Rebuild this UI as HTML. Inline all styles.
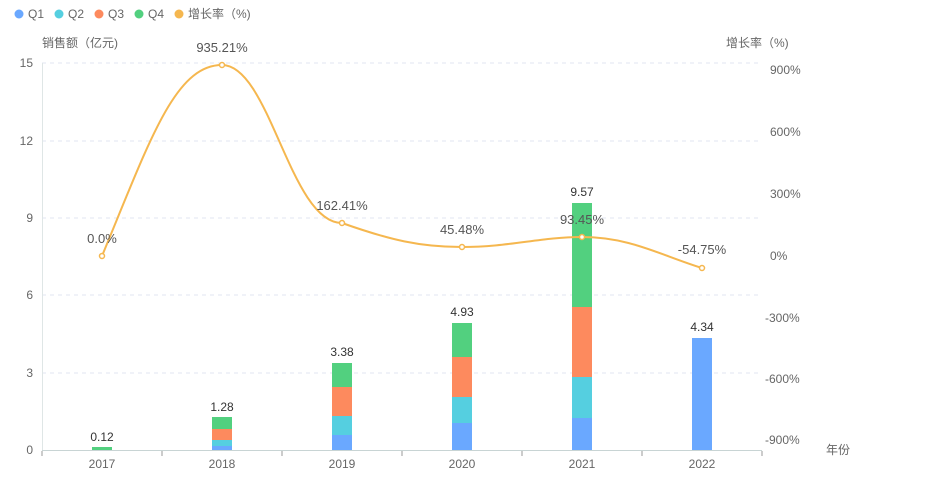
<!DOCTYPE html>
<html><head><meta charset="utf-8"><style>
body{margin:0;background:#fff;}
svg{display:block;font-family:"Liberation Sans","Noto Sans CJK SC",sans-serif;}
</style></head><body>
<svg width="926" height="480" viewBox="0 0 926 480" xmlns="http://www.w3.org/2000/svg">
<!-- legend -->
<g font-size="12" fill="#666">
<circle cx="19" cy="14" r="4.5" fill="#6aa8ff"/><text x="28" y="18">Q1</text>
<circle cx="59" cy="14" r="4.5" fill="#55cfe0"/><text x="68" y="18">Q2</text>
<circle cx="99" cy="14" r="4.5" fill="#fd8a5e"/><text x="108" y="18">Q3</text>
<circle cx="139" cy="14" r="4.5" fill="#52d07f"/><text x="148" y="18">Q4</text>
<circle cx="179" cy="14" r="4.5" fill="#f5b74f"/><text x="188" y="18">增长率（%)</text>
</g>
<text x="42" y="47" font-size="12" fill="#666">销售额（亿元)</text>
<text x="726" y="47" font-size="12" fill="#666">增长率（%)</text>
<!-- grid -->
<g stroke="#e0e6f1" stroke-dasharray="4,4">
<line x1="42" y1="63" x2="762" y2="63"/><line x1="42" y1="141" x2="762" y2="141"/>
<line x1="42" y1="218" x2="762" y2="218"/><line x1="42" y1="295" x2="762" y2="295"/>
<line x1="42" y1="373" x2="762" y2="373"/>
</g>
<line x1="42.5" y1="63" x2="42.5" y2="450" stroke="#dfe6e6"/>
<line x1="42" y1="450.5" x2="762" y2="450.5" stroke="#c8d4d4"/>
<g stroke="#999"><line x1="162" y1="451" x2="162" y2="456"/><line x1="282" y1="451" x2="282" y2="456"/><line x1="402" y1="451" x2="402" y2="456"/><line x1="522" y1="451" x2="522" y2="456"/><line x1="642" y1="451" x2="642" y2="456"/><line x1="762" y1="451" x2="762" y2="456"/><line x1="42" y1="451" x2="42" y2="456"/></g>
<g font-size="12" fill="#666" text-anchor="end">
<text x="33" y="67">15</text><text x="33" y="145">12</text><text x="33" y="222">9</text>
<text x="33" y="299">6</text><text x="33" y="377">3</text><text x="33" y="454">0</text>
</g>
<g font-size="12" fill="#666">
<text x="770" y="74">900%</text><text x="770" y="136">600%</text><text x="770" y="198">300%</text>
<text x="770" y="260">0%</text><text x="765" y="322">-300%</text><text x="765" y="383">-600%</text>
<text x="765" y="444">-900%</text><text x="826" y="454">年份</text>
</g>
<g font-size="12" fill="#666" text-anchor="middle">
<text x="102" y="468">2017</text><text x="222" y="468">2018</text><text x="342" y="468">2019</text>
<text x="462" y="468">2020</text><text x="582" y="468">2021</text><text x="702" y="468">2022</text>
</g>
<!-- bars -->
<g>
<rect x="92" y="447" width="20" height="3" fill="#52d07f"/>
<rect x="212" y="446" width="20" height="4" fill="#6aa8ff"/>
<rect x="212" y="440" width="20" height="6" fill="#55cfe0"/>
<rect x="212" y="429" width="20" height="11" fill="#fd8a5e"/>
<rect x="212" y="417" width="20" height="12" fill="#52d07f"/>
<rect x="332" y="435" width="20" height="15" fill="#6aa8ff"/>
<rect x="332" y="416" width="20" height="19" fill="#55cfe0"/>
<rect x="332" y="387" width="20" height="29" fill="#fd8a5e"/>
<rect x="332" y="363" width="20" height="24" fill="#52d07f"/>
<rect x="452" y="423" width="20" height="27" fill="#6aa8ff"/>
<rect x="452" y="397" width="20" height="26" fill="#55cfe0"/>
<rect x="452" y="357" width="20" height="40" fill="#fd8a5e"/>
<rect x="452" y="323" width="20" height="34" fill="#52d07f"/>
<rect x="572" y="418" width="20" height="32" fill="#6aa8ff"/>
<rect x="572" y="377" width="20" height="41" fill="#55cfe0"/>
<rect x="572" y="307" width="20" height="70" fill="#fd8a5e"/>
<rect x="572" y="203" width="20" height="104" fill="#52d07f"/>
<rect x="692" y="338" width="20" height="112" fill="#6aa8ff"/>
</g>
<g font-size="12" fill="#333" text-anchor="middle">
<text x="102" y="441">0.12</text><text x="222" y="411">1.28</text><text x="342" y="356">3.38</text>
<text x="462" y="316">4.93</text><text x="582" y="196">9.57</text><text x="702" y="331">4.34</text>
</g>
<!-- line -->
<path d="M102,256 C150,140 175,65 222,65 C270,65 290,223 342,223 C390,240 420,247 462,247 C510,247 540,237 582,237 C630,237 660,255 702,268" fill="none" stroke="#f5b74f" stroke-width="2"/>
<g fill="#fff" stroke="#f5b74f" stroke-width="1.5">
<circle cx="102" cy="256" r="2.5"/><circle cx="222" cy="65" r="2.5"/><circle cx="342" cy="223" r="2.5"/>
<circle cx="462" cy="247" r="2.5"/><circle cx="582" cy="237" r="2.5"/><circle cx="702" cy="268" r="2.5"/>
</g>
<g font-size="13" fill="#555" text-anchor="middle">
<text x="102" y="243">0.0%</text><text x="222" y="52">935.21%</text><text x="342" y="210">162.41%</text>
<text x="462" y="234">45.48%</text><text x="582" y="224">93.45%</text><text x="702" y="254">-54.75%</text>
</g>
</svg>
</body></html>
